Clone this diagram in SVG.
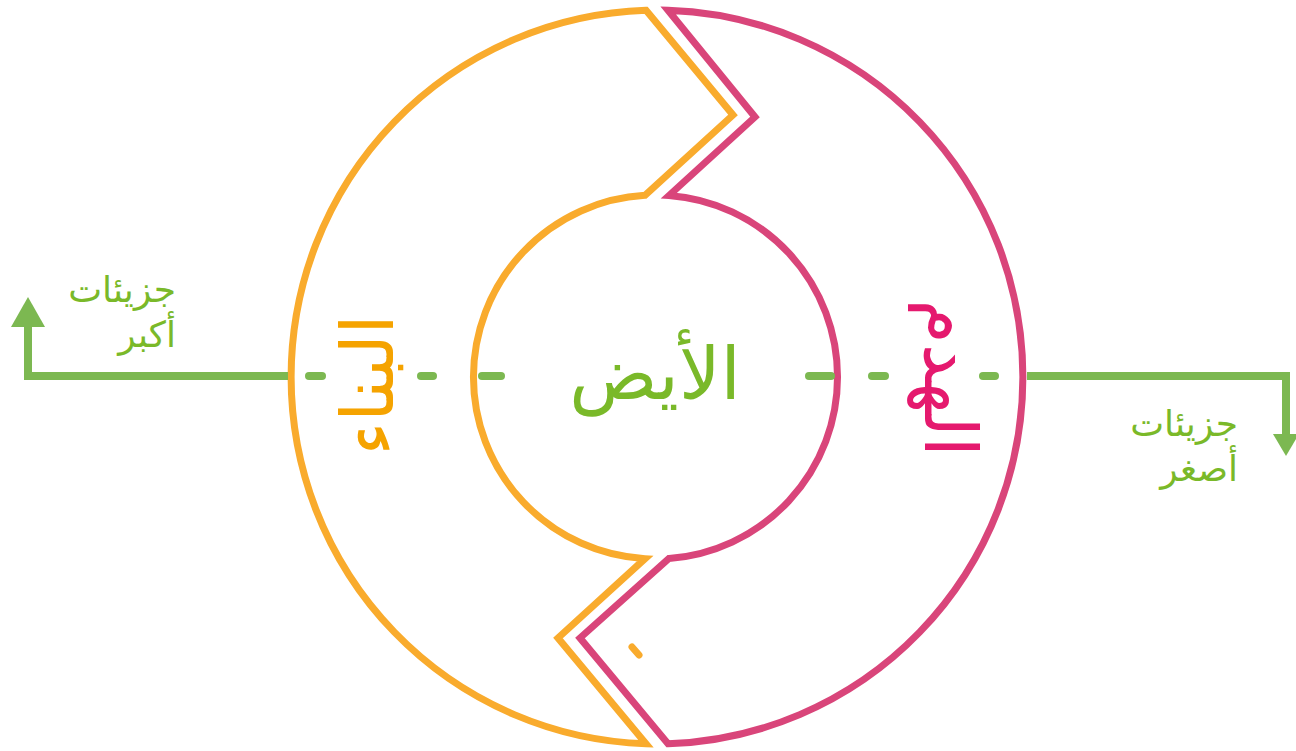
<svg xmlns="http://www.w3.org/2000/svg" width="1296" height="751" viewBox="0 0 1296 751">
<style>
.ring{fill:none;stroke-width:7;stroke-linejoin:miter;stroke-miterlimit:10}
.or{stroke:#F9AB2D}
.pk{stroke:#D9457A}
.gl{fill:none;stroke:#7CB851;stroke-width:8}
.dash{stroke:#7CB851;stroke-width:8;stroke-linecap:round}
.ah{fill:#7CB851}
.lbl{font-family:"DejaVu Sans",sans-serif;fill:#7AB929}
</style>
<rect width="1296" height="751" fill="#fff"/>
<g id="anabolism">
<path class="ring or" d="M 646 10.2 L 733 115 L 645 195.3 A 182 182 0 0 0 645 558.7 L 558 638 L 646 743.8 A 367 367 0 0 1 646 10.2 Z"/>
<line x1="632" y1="647" x2="639" y2="655" stroke="#F9AB2D" stroke-width="7" stroke-linecap="round"/>
<text transform="translate(393,385) rotate(-90)" text-anchor="middle" font-family="DejaVu Sans,sans-serif" font-size="72" fill="#F5A300">البناء</text>
</g>
<g id="catabolism">
<path class="ring pk" d="M 668 10.2 L 755 117 L 669 195.5 A 182 182 0 0 1 669 558.5 L 580 638 L 668 743.8 A 367 367 0 0 0 668 10.2 Z"/>
<text transform="translate(925,378) rotate(90)" text-anchor="middle" font-family="DejaVu Sans,sans-serif" font-size="72" fill="#E5196E">الهدم</text>
</g>
<g id="metabolism">
<text class="lbl" x="655" y="399" text-anchor="middle" font-size="73">الأيض</text>
</g>
<g id="connectors">
<polyline class="gl" points="288,376 28,376 28,325"/>
<polygon class="ah" points="28,297 11,327 45,327"/>
<polyline class="gl" points="1027,376 1286,376 1286,436"/>
<polygon class="ah" points="1286,456 1273,434 1299,434"/>
<line class="dash" x1="309" y1="376" x2="322" y2="376"/>
<line class="dash" x1="421" y1="376" x2="433" y2="376"/>
<line class="dash" x1="482" y1="376" x2="501" y2="376"/>
<line class="dash" x1="809" y1="376" x2="831" y2="376"/>
<line class="dash" x1="872" y1="376" x2="885" y2="376"/>
<line class="dash" x1="983" y1="376" x2="995" y2="376"/>
</g>
<g id="larger-molecules">
<text class="lbl" x="176" y="302" text-anchor="end" font-size="36">جزيئات</text>
<text class="lbl" x="176" y="347" text-anchor="end" font-size="36">أكبر</text>
</g>
<g id="smaller-molecules">
<text class="lbl" x="1238" y="436" text-anchor="end" font-size="36">جزيئات</text>
<text class="lbl" x="1238" y="481" text-anchor="end" font-size="36">أصغر</text>
</g>
</svg>
